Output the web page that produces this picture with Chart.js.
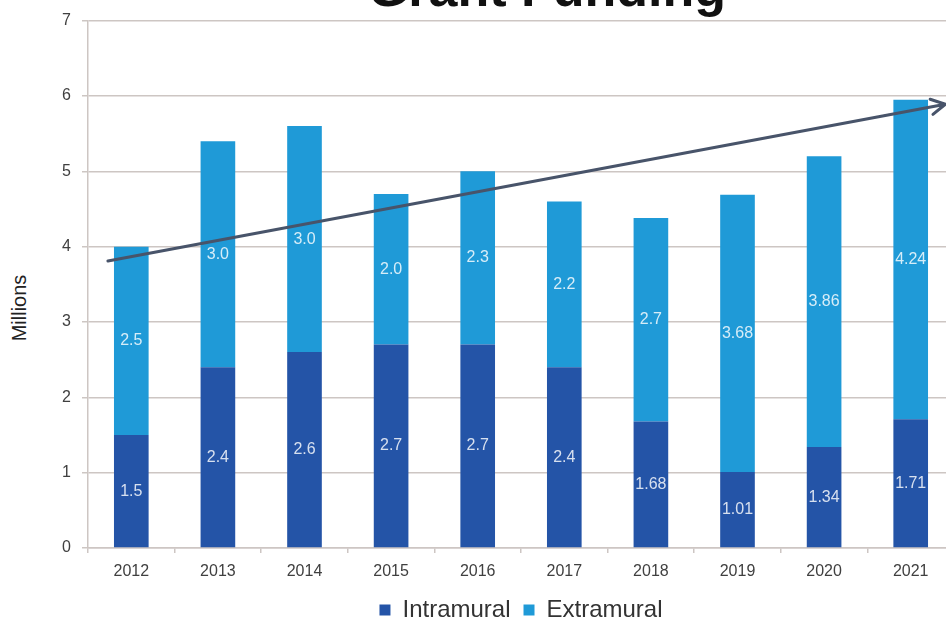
<!DOCTYPE html>
<html>
<head>
<meta charset="utf-8">
<script src="https://cdn.jsdelivr.net/npm/chart.js@4.4.1/dist/chart.umd.min.js"></script>
<style>
  html, body { margin: 0; padding: 0; background: #fff; overflow: hidden; width: 946px; height: 624px; }
  #title {
    position: absolute; left: 0; top: -38px; width: 1094px;
    text-align: center; font: bold 52px "Liberation Sans", Arial, sans-serif;
    line-height: 52px; color: #111;
  }
  #ytitle {
    position: absolute; left: 19px; top: 308px; width: 0; height: 0;
  }
  #ytitle span {
    position: absolute; left: 0; top: 0; white-space: nowrap;
    transform: translate(-50%, -50%) rotate(-90deg);
    font: 20px "Liberation Sans", Arial, sans-serif; color: #222;
  }
  #chart { position: absolute; left: 0; top: 0; }
</style>
</head>
<body>
<div id="title">Grant Funding</div>
<div id="ytitle"><span>Millions</span></div>
<canvas id="chart" width="1044" height="632"></canvas>
<script>
// data
const years = ['2012', '2013', '2014', '2015', '2016', '2017', '2018', '2019', '2020', '2021'];
const intramural = [1.5, 2.4, 2.6, 2.7, 2.7, 2.4, 1.68, 1.01, 1.34, 1.71];
const extramural = [2.5, 3.0, 3.0, 2.0, 2.3, 2.2, 2.7, 3.68, 3.86, 4.24];
const yTicks = [0, 1, 2, 3, 4, 5, 6, 7];
// trend arrow, in category index / millions
const trendX = [-0.27, 9.4];
const trendY = [3.81, 5.89];

const gridColor = '#cdc6c3';
const fontFamily = '"Liberation Sans", Arial, sans-serif';

// labels inside the bar segments
const barLabels = {
    id: 'barLabels',
    afterDatasetsDraw(chart) {
        const ctx = chart.ctx;
        ctx.save();
        ctx.font = '16px ' + fontFamily;
        ctx.fillStyle = 'rgba(255,255,255,0.82)';
        ctx.textAlign = 'center';
        ctx.textBaseline = 'middle';
        chart.data.datasets.forEach((ds, i) => {
            chart.getDatasetMeta(i).data.forEach((bar, j) => {
                const v = ds.data[j];
                const txt = Math.round(v * 100) % 10 ? v.toFixed(2) : v.toFixed(1);
                ctx.fillText(txt, bar.x, (bar.y + bar.base) / 2);
            });
        });
        ctx.restore();
    }
};

// trend arrow drawn over the bars
const trendArrow = {
    id: 'trendArrow',
    afterDatasetsDraw(chart) {
        const xs = chart.scales.x, ys = chart.scales.y, ctx = chart.ctx;
        const x1 = xs.getPixelForValue(trendX[0]), y1 = ys.getPixelForValue(trendY[0]);
        const x2 = xs.getPixelForValue(trendX[1]), y2 = ys.getPixelForValue(trendY[1]);
        const a = Math.atan2(y2 - y1, x2 - x1);
        ctx.save();
        ctx.strokeStyle = '#48546a';
        ctx.lineWidth = 3;
        ctx.lineCap = 'round';
        ctx.lineJoin = 'round';
        ctx.beginPath();
        ctx.moveTo(x1, y1);
        ctx.lineTo(x2, y2);
        ctx.moveTo(x2 - 16 * Math.cos(a - 0.5), y2 - 16 * Math.sin(a - 0.5));
        ctx.lineTo(x2, y2);
        ctx.lineTo(x2 - 16 * Math.cos(a + 0.5), y2 - 16 * Math.sin(a + 0.5));
        ctx.stroke();
        ctx.restore();
    }
};

new Chart(document.querySelector('#chart'), {
    type: 'bar',
    data: {
        labels: years,
        datasets: [{
            label: 'Intramural',
            data: intramural,
            backgroundColor: '#2454a7'
        }, {
            label: 'Extramural',
            data: extramural,
            backgroundColor: '#1f9ad7'
        }]
    },
    options: {
        responsive: false,
        animation: false,
        barPercentage: 0.4,
        categoryPercentage: 1,
        layout: { padding: { top: 19, right: 90, left: 0, bottom: 0 } },
        plugins: {
            legend: {
                position: 'bottom',
                fullSize: false,
                labels: {
                    boxWidth: 11,
                    boxHeight: 11,
                    padding: 13,
                    color: '#333',
                    font: { family: fontFamily, size: 24, lineHeight: 1 }
                }
            },
            tooltip: { enabled: false }
        },
        scales: {
            x: {
                stacked: true,
                afterFit: s => { s.height = 37; },
                grid: { drawOnChartArea: false, offset: true, tickLength: 5, color: gridColor, lineWidth: 1.5 },
                border: { color: gridColor, width: 1.5 },
                ticks: {
                    padding: 9,
                    color: '#404040',
                    font: { family: fontFamily, size: 16 }
                }
            },
            y: {
                stacked: true,
                min: yTicks[0],
                max: yTicks[yTicks.length - 1],
                afterFit: s => { s.width = 88; },
                afterBuildTicks: s => { s.ticks = yTicks.map(v => ({ value: v })); },
                grid: { color: gridColor, lineWidth: 1.5, tickLength: 6 },
                border: { color: gridColor, width: 1.5 },
                ticks: {
                    padding: 11,
                    color: '#404040',
                    font: { family: fontFamily, size: 16 }
                }
            }
        }
    },
    plugins: [barLabels, trendArrow]
});
</script>
</body>
</html>
